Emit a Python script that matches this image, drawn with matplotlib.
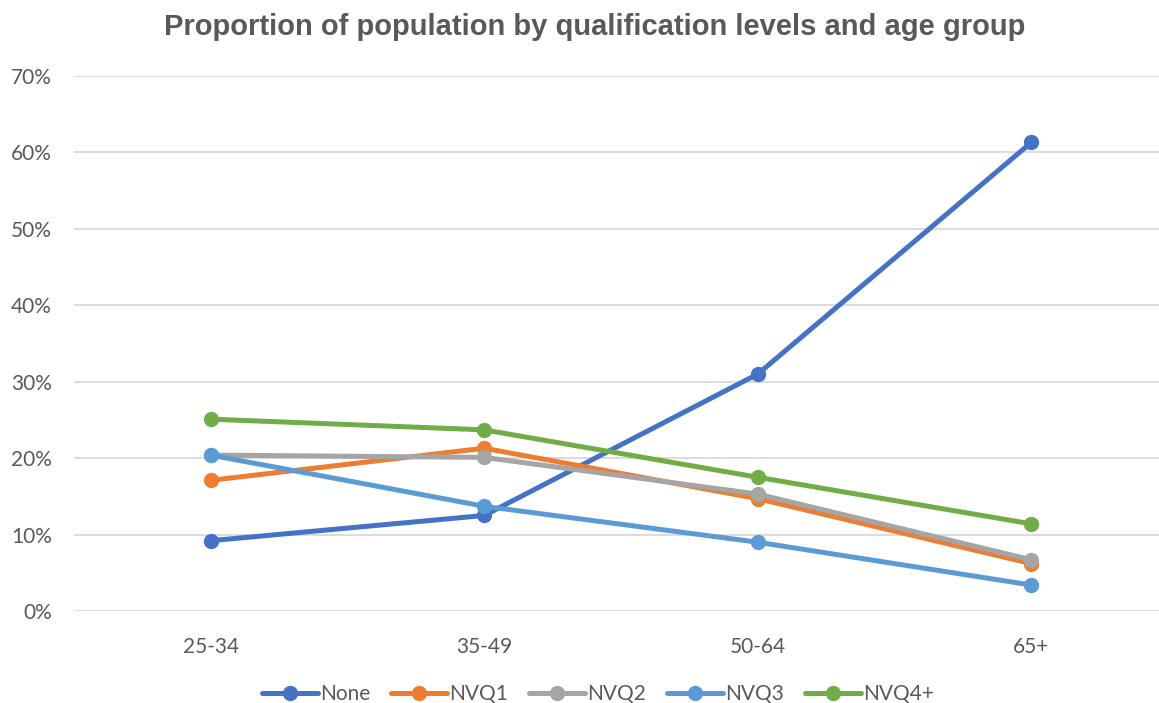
import matplotlib.pyplot as plt
from matplotlib.ticker import PercentFormatter

# Data
age_groups = ['25-34', '35-49', '50-64', '65+']
none_vals = [0.092, 0.125, 0.310, 0.613]
nvq1_vals = [0.171, 0.213, 0.147, 0.062]
nvq2_vals = [0.204, 0.201, 0.153, 0.067]
nvq3_vals = [0.204, 0.137, 0.090, 0.034]
nvq4_vals = [0.251, 0.237, 0.175, 0.114]

series = ['None', 'NVQ1', 'NVQ2', 'NVQ3', 'NVQ4+']
values = [none_vals, nvq1_vals, nvq2_vals, nvq3_vals, nvq4_vals]
colors = ['#4472C4', '#ED7D31', '#A5A5A5', '#5B9BD5', '#70AD47']

fig = plt.figure(figsize=(11.59, 7.03), dpi=100)
ax = fig.add_axes([74 / 1159, 92 / 703, 1094 / 1159, 535 / 703])

x = range(len(age_groups))
for name, vals, color in zip(series, values, colors):
    ax.plot(x, vals, color=color, label=name, linewidth=3.6,
            marker='o', markersize=10, solid_capstyle='round')

ax.set_xlim(-0.5, 3.5)
ax.set_ylim(0, 0.7)
ax.set_yticks([i / 10 for i in range(8)])
ax.yaxis.set_major_formatter(PercentFormatter(1.0, decimals=0))
ax.set_xticks(list(x))
ax.set_xticklabels(age_groups)
ax.grid(axis='y', color='#D9D9D9', linewidth=1.3)
ax.set_axisbelow(True)
for s in ax.spines.values():
    s.set_visible(False)
ax.tick_params(length=0, labelsize=15, labelcolor='#595959')
ax.tick_params(axis='y', pad=16)
ax.tick_params(axis='x', pad=19)
for lbl in ax.get_xticklabels() + ax.get_yticklabels():
    lbl.set_fontfamily('Lato')

fig.text(0.513, 1 - 27 / 703, 'Proportion of population by qualification levels and age group',
         ha='center', va='center', fontsize=21, fontweight='bold', color='#595959',
         family='Liberation Sans')

fig.legend(loc='center', bbox_to_anchor=(0.516, 1 - 694 / 703), ncol=5, frameon=False,
           prop={'family': 'Lato', 'size': 15}, labelcolor='#595959',
           handlelength=2.7, columnspacing=1.0, handletextpad=0.1)

fig.savefig('out.png', dpi=100)
